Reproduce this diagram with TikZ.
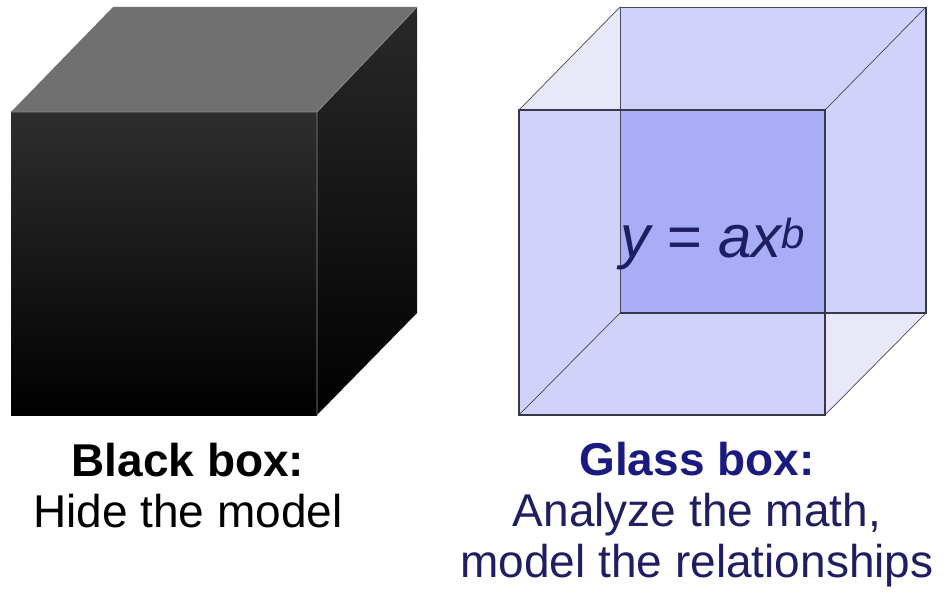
\documentclass[tikz,border=0pt]{standalone}
\usepackage{fontspec}
\setmainfont{Liberation Sans}
\usepackage{xcolor}
\usetikzlibrary{calc}
\definecolor{bkface}{RGB}{46,46,46}
\definecolor{bkup}{RGB}{112,112,112}
\definecolor{bkedge}{RGB}{140,140,140}
\definecolor{glface}{RGB}{208,210,249}
\definecolor{gldeep}{RGB}{169,173,246}
\definecolor{glpale}{RGB}{232,232,249}
\definecolor{gline}{RGB}{70,70,92}
\definecolor{navy}{RGB}{26,26,128}
\definecolor{navyd}{RGB}{30,30,96}

\begin{document}
\begin{tikzpicture}[x=1pt,y=-1pt]
\tikzset{edge/.style={draw=bkedge,line width=0.8pt},gedge/.style={draw=gline,line width=0.7pt},
  front/.style={draw=gline!80!black,line width=1.4pt},
  lbl/.style={align=center,inner sep=0pt,anchor=north,font=\fontsize{46}{51}\selectfont},
  eq/.style={inner sep=0pt,anchor=base,text=navyd,font=\fontsize{60}{64}\selectfont\itshape}}
\useasboundingbox (0,0) rectangle (945,596);
% black box
\coordinate (bA) at (11,112);\coordinate (bB) at (317,112);\coordinate (bC) at (317,415);\coordinate (bD) at (11,415);
\coordinate (bE) at (113,7);\coordinate (bF) at (417,7);\coordinate (bG) at (417,313);
\shade[top color=bkface,bottom color=black] (bA) rectangle (bC);
\fill[bkup] (bA)--(bE)--(bF)--(bB)--cycle;
\shade[top color=bkface!90!black,bottom color=black] (bB)--(bF)--(bG)--(bC)--cycle;
\draw[edge] (bA)--(bB)--(bF) (bB)--(bC);
% glass box
\coordinate (gA) at (519,110);\coordinate (gB) at (825,110);\coordinate (gC) at (825,415);\coordinate (gD) at (519,415);
\coordinate (gE) at (620,7);\coordinate (gF) at (926,7);\coordinate (gG) at (926,313);\coordinate (gH) at (620,313);
\fill[glface] (gE) rectangle (gG);
\fill[glface] (gA) rectangle (gC);
\fill[gldeep] (gE|-gA) rectangle (gB|-gH);
\fill[glpale] (gA)--(gE)--(gE|-gA)--cycle;
\fill[glpale] (gB|-gH)--(gG)--(gC)--cycle;
\draw[gedge] (gE) rectangle (gG);
\draw[gedge] (gA)--(gE) (gB)--(gF) (gC)--(gG) (gD)--(gH);
\draw[front] (gF)--(gG) (gH)--(gG);
\draw[front] (gA) rectangle (gC);
\node[eq] (eqn) at (713,258) {y = ax\textsuperscript{b}};
% labels
\node[lbl] (blk) at (188,443) {\textbf{Black box:}\\Hide the model};
\node[lbl,text=navyd] (gls) at (697,442) {\textcolor{navy}{\textbf{Glass box:}}\\Analyze the math,\\model the relationships};
\end{tikzpicture}
\end{document}
